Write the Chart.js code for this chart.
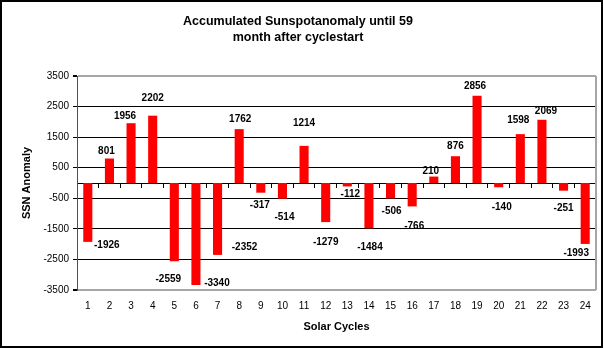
<!DOCTYPE html>
<html>
<head>
<meta charset="utf-8">
<script src="https://cdn.jsdelivr.net/npm/chart.js@4.4.1/dist/chart.umd.min.js"></script>
<style>
  html, body { margin: 0; padding: 0; background: #fff; }
  #c { display: block; }
</style>
</head>
<body>
<canvas id="c" width="604" height="348"></canvas>
<script>
// ---- data ----
const categories = ['1','2','3','4','5','6','7','8','9','10','11','12','13','14','15','16','17','18','19','20','21','22','23','24'];
const ssnAnomaly = [-1926, 801, 1956, 2202, -2559, -3340, -2352, 1762, -317, -514, 1214, -1279, -112, -1484, -506, -766, 210, 876, 2856, -140, 1598, 2069, -251, -1993];
const yTicks = [-3500, -2500, -1500, -500, 500, 1500, 2500, 3500];
const titleLines = ['Accumulated Sunspotanomaly until 59', 'month after cyclestart'];
const yTitle = 'SSN Anomaly';
const xTitle = 'Solar Cycles';

// label nudges (relative to bar end), mimicking the hand-placed labels
const labelNudge = [
  [19, 3], [-3, -7], [-6, -7], [0, -17], [-6, 18], [21, -2], [27, -8], [1, -10],
  [-1, 13], [2, 19], [0, -23], [0, 20], [3, 8], [1, 19], [1, 13], [2, 20],
  [-3, -5], [0, -10], [-2, -9], [3, 20], [-2, -14], [4, -8], [0, 18], [-9, 9]
];

const FONT = "'Liberation Sans', Arial, sans-serif";

const decorPlugin = {
  id: 'decor',
  beforeDraw(chart) {
    const ctx = chart.ctx;
    ctx.save();
    ctx.fillStyle = '#fff';
    ctx.fillRect(0, 0, chart.width, chart.height);
    ctx.restore();
  },
  beforeDatasetsDraw(chart) {
    const {ctx, chartArea: a} = chart;
    ctx.save();
    ctx.strokeStyle = '#a6a6a6';
    ctx.lineWidth = 2;
    ctx.beginPath();
    ctx.moveTo(a.right, a.top);
    ctx.lineTo(a.right, a.bottom);
    ctx.stroke();
    ctx.restore();
  },
  afterDatasetsDraw(chart) {
    const ctx = chart.ctx;
    const meta = chart.getDatasetMeta(0);
    ctx.save();
    ctx.font = "bold 10px " + FONT;
    ctx.fillStyle = '#000';
    ctx.textAlign = 'center';
    ctx.textBaseline = 'middle';
    meta.data.forEach((bar, i) => {
      const n = labelNudge[i] || [0, 0];
      ctx.fillText(String(ssnAnomaly[i]), bar.x + n[0], bar.y + n[1]);
    });
    ctx.restore();
  },
  afterDraw(chart) {
    const ctx = chart.ctx;
    ctx.save();
    ctx.strokeStyle = '#000';
    ctx.lineWidth = 2;
    ctx.strokeRect(1, 1, chart.width - 3, chart.height - 2);
    ctx.restore();
  }
};

new Chart(document.getElementById('c'), {
  type: 'bar',
  data: {
    labels: categories,
    datasets: [{
      data: ssnAnomaly,
      backgroundColor: '#ff0000',
      borderWidth: 0,
      barPercentage: 0.42,
      categoryPercentage: 1.0,
      xAxisID: 'x',
      yAxisID: 'y'
    }]
  },
  options: {
    responsive: false,
    animation: false,
    devicePixelRatio: 1,
    layout: { padding: { left: 0, right: 8, top: 0, bottom: 14 } },
    plugins: {
      legend: { display: false },
      tooltip: { enabled: false },
      title: {
        display: true,
        text: titleLines,
        color: '#000',
        font: { family: FONT, size: 12.5, weight: 'bold', lineHeight: 16 / 12.5 },
        padding: { top: 14, bottom: 30 }
      }
    },
    scales: {
      x: {
        type: 'category',
        position: 'bottom',
        offset: true,
        grid: { display: false, drawTicks: false },
        border: { display: false },
        ticks: { color: '#000', font: { family: FONT, size: 10 }, padding: 10, maxRotation: 0, autoSkip: false },
        title: { display: true, text: xTitle, color: '#000', font: { family: FONT, size: 11, weight: 'bold' }, padding: { top: 0, bottom: 0 } },
        afterFit(s) { s.height = 44; }
      },
      x0: {
        type: 'category',
        labels: categories,
        position: { y: 0 },
        offset: true,
        grid: { offset: true, drawOnChartArea: false, drawTicks: true, tickLength: 4, color: '#000' },
        border: { display: true, color: '#000', width: 1 },
        ticks: { display: false }
      },
      y: {
        type: 'linear',
        position: 'left',
        min: -3500,
        max: 3500,
        afterBuildTicks(s) { s.ticks = yTicks.map(v => ({ value: v })); },
        ticks: {
          color: '#000',
          font: { family: FONT, size: 10 },
          padding: 4,
          callback: v => String(v)
        },
        grid: {
          color: c => (c.tick && Math.abs(c.tick.value) === 3500) ? '#a6a6a6' : '#000',
          lineWidth: c => (c.tick && Math.abs(c.tick.value) === 3500) ? 2 : 1,
          tickColor: '#000',
          tickLength: 4,
          drawTicks: true
        },
        border: { display: true, color: '#505050', width: 1 },
        title: { display: true, text: yTitle, color: '#000', font: { family: FONT, size: 11, weight: 'bold' }, padding: { top: 20, bottom: 0 } },
        afterFit(s) { s.width = 77; }
      }
    }
  },
  plugins: [decorPlugin]
});
</script>
</body>
</html>
